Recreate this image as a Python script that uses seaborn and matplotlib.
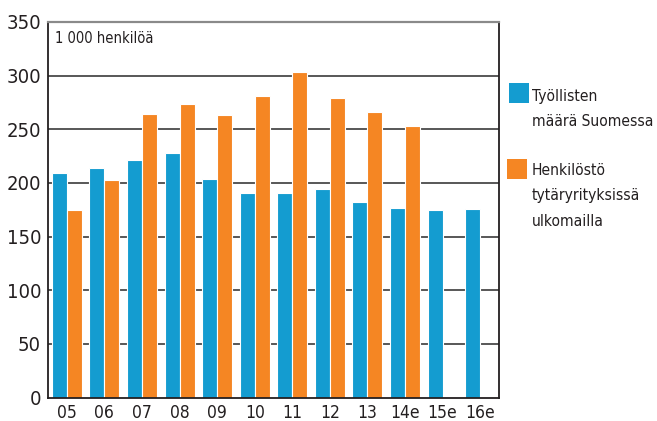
import matplotlib
matplotlib.use("Agg")
import matplotlib.pyplot as plt
import seaborn as sns
import pandas as pd
import numpy as np
from matplotlib.patches import Rectangle
from matplotlib.ticker import FixedLocator

years = ["05", "06", "07", "08", "09", "10", "11", "12", "13", "14e", "15e", "16e"]
finland = [209, 214, 221, 228, 204, 191, 191, 194, 182, 177, 175, 176]
abroad = [175, 203, 264, 274, 263, 281, 303, 279, 266, 253, np.nan, np.nan]
series_names = ["Työllisten\nmäärä Suomessa", "Henkilöstö\ntytäryrityksissä\nulkomailla"]
yticks = [0, 50, 100, 150, 200, 250, 300, 350]
unit_label = "1 000 henkilöä"

colors = ["#149cd0", "#f58623"]
W, H = 657, 421

df = pd.DataFrame({
    "year": years * 2,
    "value": finland + abroad,
    "series": [series_names[0]] * len(years) + [series_names[1]] * len(years),
})

sns.set_theme(style="white")
plt.rcParams["font.family"] = ["DejaVu Sans"]
plt.rcParams["font.stretch"] = "condensed"

fig = plt.figure(figsize=(W / 100, H / 100), dpi=100)
ax = fig.add_axes([48 / W, 1 - 397.5 / H, (499 - 48) / W, (397.5 - 22) / H])

sns.barplot(data=df, x="year", y="value", hue="series", order=years,
            hue_order=series_names, palette=colors, width=0.8,
            edgecolor="white", linewidth=0.8, saturation=1, ax=ax, legend=False)

ax.set_xlim(-0.5, len(years) - 0.5)
ax.set_ylim(0, 350)
ax.set_yticks(yticks)
ax.set_yticklabels([str(t) for t in yticks], fontsize=14.5, color="#231f20")
ax.set_xlabel("")
ax.set_ylabel("")
ax.tick_params(axis="x", which="major", length=0, labelsize=12.5, labelcolor="#231f20", pad=5)
ax.tick_params(axis="y", which="major", length=0, pad=5)
ax.xaxis.set_minor_locator(FixedLocator(np.arange(0.5, len(years) - 1, 1.0)))
ax.tick_params(axis="x", which="minor", direction="in", length=8, width=1.2, color="#231f20")

for y in yticks[1:-1]:
    ax.axhline(y, color="#4a4a4a", lw=1.3, zorder=0.5)

for side in ["left", "bottom", "right"]:
    ax.spines[side].set_visible(True)
    ax.spines[side].set_color("#231f20")
    ax.spines[side].set_linewidth(1.3)
ax.spines["top"].set_color("#8a8a8a")
ax.spines["top"].set_linewidth(1.6)

ax.text(0.015, 0.975, unit_label, transform=ax.transAxes, ha="left", va="top",
        fontsize=10.5, color="#231f20")

# legend drawn manually so the swatch aligns with the first text line
legend_layout = [
    # (swatch x, swatch top, swatch size, baselines of text lines)
    (509, 83, 20, [101, 126]),
    (507, 159, 20, [175, 200, 226]),
]
for color, name, (sx, stop, ssz, baselines) in zip(colors, series_names, legend_layout):
    fig.add_artist(Rectangle((sx / W, 1 - (stop + ssz) / H), ssz / W, ssz / H,
                             transform=fig.transFigure, facecolor=color,
                             edgecolor="none"))
    for line, bl in zip(name.split("\n"), baselines):
        fig.text(532 / W, 1 - bl / H, line, ha="left", va="baseline",
                 fontsize=11.2, color="#231f20")

fig.savefig("out.png", dpi=100)
